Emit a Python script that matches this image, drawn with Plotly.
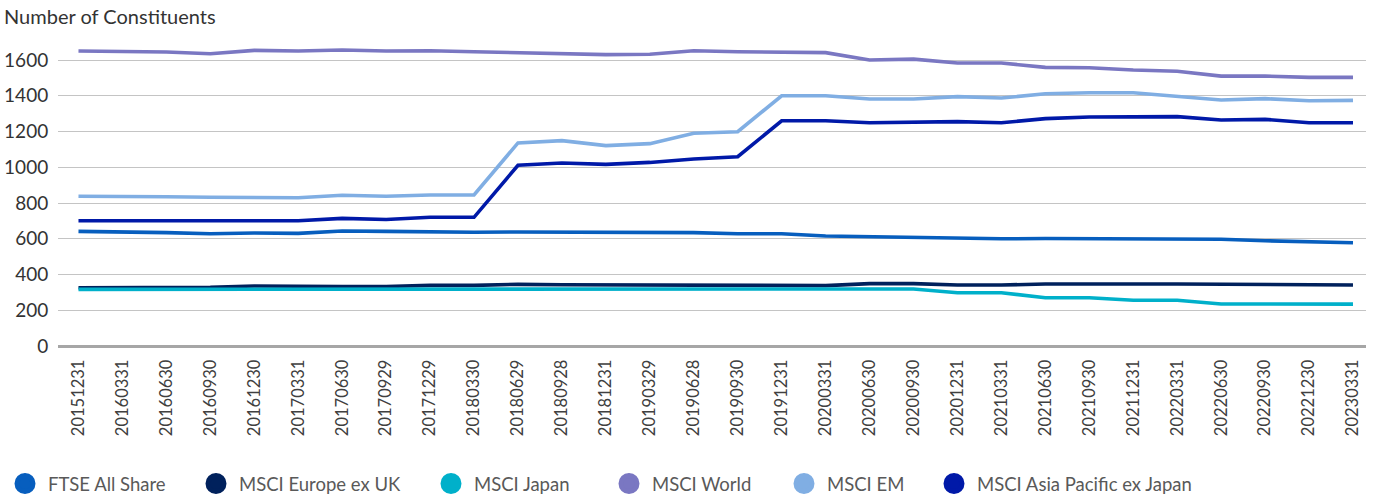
import plotly.graph_objects as go

dates = ["20151231","20160331","20160630","20160930","20161230","20170331","20170630","20170929",
         "20171229","20180330","20180629","20180928","20181231","20190329","20190628","20190930",
         "20191231","20200331","20200630","20200930","20201231","20210331","20210630","20210930",
         "20211231","20220331","20220630","20220930","20221230","20230331"]

ftse_all_share = [641,640,634,628,632,630,643,641,638,636,638,638,634,634,634,628,
                  628,615,610,610,604,600,601,601,599,599,597,589,584,578]
msci_europe_ex_uk = [326,327,329,329,336,333,333,333,339,339,345,343,342,342,343,343,
                     337,338,349,349,341,341,347,345,347,347,346,345,344,341]
msci_japan = [317,317,318,318,318,318,318,318,317,317,317,317,317,317,317,317,
              318,318,319,319,298,298,270,270,256,256,235,235,235,234]
msci_world = [1650,1646,1645,1635,1654,1650,1656,1650,1652,1646,1641,1637,1630,1632,1652,1646,
              1643,1641,1600,1605,1583,1583,1559,1557,1544,1537,1510,1510,1503,1503]
msci_em = [838,834,835,832,831,829,843,838,845,845,1136,1149,1121,1132,1190,1199,
           1400,1400,1382,1382,1395,1387,1411,1417,1417,1395,1376,1384,1372,1374]
msci_apac_ex_japan = [701,701,702,698,700,701,714,708,720,720,1011,1024,1016,1027,1046,1059,
                      1260,1260,1249,1253,1255,1249,1272,1281,1281,1283,1264,1268,1249,1249]

series = [
    ("FTSE All Share", ftse_all_share, "#075EBE"),
    ("MSCI Europe ex UK", msci_europe_ex_uk, "#00215C"),
    ("MSCI Japan", msci_japan, "#00B0CA"),
    ("MSCI World", msci_world, "#7A77C2"),
    ("MSCI EM", msci_em, "#80AEE3"),
    ("MSCI Asia Pacific ex Japan", msci_apac_ex_japan, "#0019A8"),
]
# legend symbol centres (px) as in the reference legend layout
legend_px = [22, 213, 448, 626, 801, 951]

FONT = "Lato, Noto Sans, sans-serif"
L, R, T, B = 58, 10, 30, 151
PW = 1376 - L - R
PH = 497 - T - B

xs = list(range(len(dates)))
fig = go.Figure()
for name, vals, col in series:
    fig.add_trace(go.Scatter(x=xs, y=vals, mode="lines", name=name,
                             line=dict(color=col, width=3.6), showlegend=False))
legends = {}
for i, (name, vals, col) in enumerate(series):
    key = "legend" if i == 0 else f"legend{i+1}"
    fig.add_trace(go.Scatter(x=[None], y=[None], mode="markers", name=name,
                             marker=dict(color=col, size=16, symbol="circle",
                                         line=dict(width=5, color=col)),
                             legend=key))
    legends[key] = dict(orientation="h", x=(legend_px[i] - 20 - L) / PW, xanchor="left",
                        y=(T + PH - 484) / PH, yanchor="middle", itemwidth=36,
                        font=dict(family=FONT, size=18.5, color="#595959"),
                        itemsizing="trace", bgcolor="rgba(0,0,0,0)", borderwidth=0)

fig.update_layout(
    width=1376, height=497,
    margin=dict(l=L, r=R, t=T, b=B, autoexpand=False),
    paper_bgcolor="white", plot_bgcolor="white",
    font=dict(family=FONT, size=17, color="#333333"),
    showlegend=True,
    xaxis=dict(range=[-0.466, 29.296], tickmode="array", tickvals=xs, ticktext=dates,
               tickangle=-90, showgrid=False, zeroline=False, showline=False, automargin=False,
               ticks="outside", ticklen=6, tickcolor="rgba(0,0,0,0)",
               tickfont=dict(family=FONT, size=16.5, color="#404040")),
    yaxis=dict(range=[0, (PH) / (286 / 1600)], tickvals=[0,200,400,600,800,1000,1200,1400,1600],
               showgrid=True, gridcolor="#C4C4C4", gridwidth=1.3, zeroline=True, automargin=False,
               zerolinecolor="#A6A6A6", zerolinewidth=3,
               ticks="outside", ticklen=5, tickcolor="rgba(0,0,0,0)",
               tickfont=dict(family=FONT, size=19, color="#333333")),
    **legends,
)
fig.add_annotation(text="Number of Constituents", xref="paper", yref="paper",
                   x=(2 - L) / PW, xanchor="left", y=1 + (T - 16) / PH, yanchor="middle",
                   showarrow=False, font=dict(family=FONT, size=20, color="#333333"))
fig.write_html("out.html")
